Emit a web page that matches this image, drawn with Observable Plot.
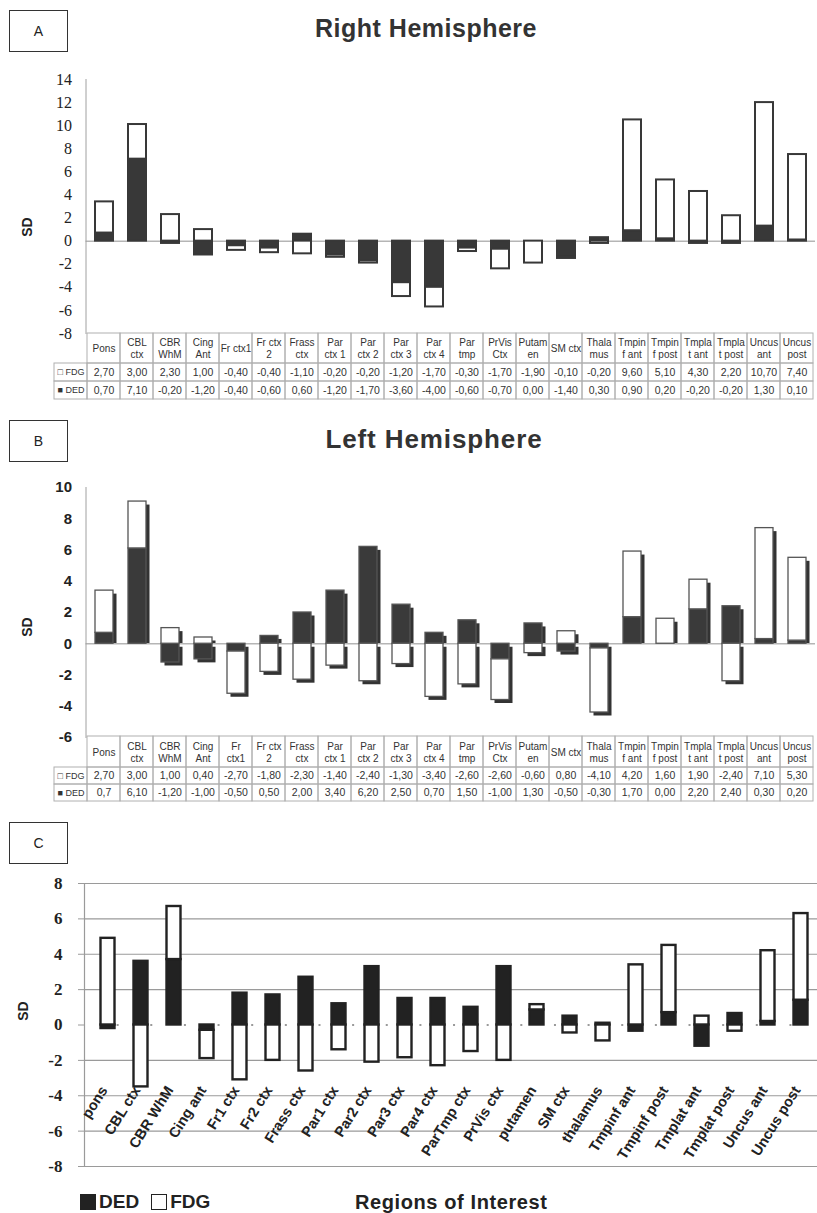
<!DOCTYPE html>
<html><head><meta charset="utf-8">
<script src="https://cdn.jsdelivr.net/npm/d3@7"></script>
<script src="https://cdn.jsdelivr.net/npm/@observablehq/plot@0.6"></script>
<style>
body{margin:0;background:#fff;}
#root{position:relative;width:817px;height:1213px;overflow:hidden;font-family:"Liberation Sans",Arial,sans-serif;color:#222;background:#fff;}
.box{position:absolute;border:1px solid #333;display:flex;align-items:center;justify-content:center;font-size:14px;color:#222;box-sizing:border-box;}
.title{position:absolute;font-weight:bold;color:#333;white-space:nowrap;line-height:1;transform:translateX(-50%);}
.sd{position:absolute;font-weight:bold;font-size:14px;line-height:1;color:#222;transform:translate(-50%,-50%) rotate(-90deg);}
</style></head><body><div id="root"></div>
<script>
// ---------- DATA ----------
const catsA = ["Pons","CBL\nctx","CBR\nWhM","Cing\nAnt","Fr ctx1","Fr ctx\n2","Frass\nctx","Par\nctx 1","Par\nctx 2","Par\nctx 3","Par\nctx 4","Par\ntmp","PrVis\nCtx","Putam\nen","SM ctx","Thala\nmus","Tmpin\nf ant","Tmpin\nf post","Tmpla\nt ant","Tmpla\nt post","Uncus\nant","Uncus\npost"];
const fdgA = ["2,70","3,00","2,30","1,00","-0,40","-0,40","-1,10","-0,20","-0,20","-1,20","-1,70","-0,30","-1,70","-1,90","-0,10","-0,20","9,60","5,10","4,30","2,20","10,70","7,40"];
const dedA = ["0,70","7,10","-0,20","-1,20","-0,40","-0,60","0,60","-1,20","-1,70","-3,60","-4,00","-0,60","-0,70","0,00","-1,40","0,30","0,90","0,20","-0,20","-0,20","1,30","0,10"];

const catsB = ["Pons","CBL\nctx","CBR\nWhM","Cing\nAnt","Fr\nctx1","Fr ctx\n2","Frass\nctx","Par\nctx 1","Par\nctx 2","Par\nctx 3","Par\nctx 4","Par\ntmp","PrVis\nCtx","Putam\nen","SM ctx","Thala\nmus","Tmpin\nf ant","Tmpin\nf post","Tmpla\nt ant","Tmpla\nt post","Uncus\nant","Uncus\npost"];
const fdgB = ["2,70","3,00","1,00","0,40","-2,70","-1,80","-2,30","-1,40","-2,40","-1,30","-3,40","-2,60","-2,60","-0,60","0,80","-4,10","4,20","1,60","1,90","-2,40","7,10","5,30"];
const dedB = ["0,7","6,10","-1,20","-1,00","-0,50","0,50","2,00","3,40","6,20","2,50","0,70","1,50","-1,00","1,30","-0,50","-0,30","1,70","0,00","2,20","2,40","0,30","0,20"];

const catsC = ["pons","CBL ctx","CBR WhM","Cing ant","Fr1 ctx","Fr2 ctx","Frass ctx","Par1 ctx","Par2 ctx","Par3 ctx","Par4 ctx","ParTmp ctx","PrVis ctx","putamen","SM ctx","thalamus","Tmpinf ant","Tmpinf post","Tmplat ant","Tmplat post","Uncus ant","Uncus post"];
const dedC = [-0.2, 3.6, 3.7, -0.3, 1.8, 1.7, 2.7, 1.2, 3.3, 1.5, 1.5, 1.0, 3.3, 0.85, 0.5, 0.1, -0.35, 0.7, -1.2, 0.65, 0.2, 1.4];
const fdgC = [4.9, -3.5, 3.0, -1.6, -3.1, -2.0, -2.6, -1.4, -2.1, -1.85, -2.3, -1.5, -2.0, 0.3, -0.45, -0.9, 3.4, 3.8, 0.5, -0.35, 4.0, 4.9];

const ticksA = d3.range(-8, 15, 2);
const ticksB = d3.range(-6, 11, 2);
const ticksC = d3.range(-8, 9, 2);
const seriesNames = ["DED", "FDG"];

// ---------- HELPERS ----------
const root = document.getElementById("root");
const FONT = '"Liberation Sans", Arial, sans-serif';
const NARROW = '"Liberation Sans Narrow", "Liberation Sans", Arial, sans-serif';
const SERIF = '"Liberation Serif", "Times New Roman", serif';
const W = 817;
const baseStyle = {background: "transparent", overflow: "visible", maxWidth: "none", fontFamily: FONT};
const num = s => +String(s).replace(",", ".");

function put(node, left, top) {
  node.style.position = "absolute";
  node.style.left = left + "px";
  node.style.top = top + "px";
  root.appendChild(node);
  return node;
}
function div(cls, text, css) {
  const d = document.createElement("div");
  if (cls) d.className = cls;
  d.textContent = text;
  Object.assign(d.style, css || {});
  root.appendChild(d);
  return d;
}
function longData(cats, ded, fdg) {
  return cats.flatMap((c, i) => [
    {cat: c, series: "DED", value: num(ded[i])},
    {cat: c, series: "FDG", value: num(fdg[i])}
  ]);
}
function table(cats, fdgStr, dedStr, top, headerH, rowH, left, right) {
  const step = (W - left - right) / cats.length;
  const header = Plot.plot({
    width: W, height: headerH + 1, marginTop: 0.5, marginBottom: 0.5, marginLeft: left, marginRight: right,
    style: baseStyle,
    x: {domain: cats, padding: 0, axis: null},
    y: {domain: ["h"], padding: 0, axis: null},
    marks: [
      Plot.cell(cats, {x: d => d, y: () => "h", fill: "none", stroke: "#b0b0b0", inset: 0}),
      Plot.text(cats, {x: d => d, y: () => "h", text: d => d, fontSize: 10, lineHeight: 1.2, fontFamily: NARROW, fill: "#333"})
    ]
  });
  put(header, 0, top - 0.5);
  const LEG = "legend";
  const rows = [];
  [["FDG", fdgStr, "\u25A1 FDG"], ["DED", dedStr, "\u25A0 DED"]].forEach(([r, vals, lab]) => {
    rows.push({col: LEG, row: r, text: lab});
    cats.forEach((c, i) => rows.push({col: c, row: r, text: vals[i]}));
  });
  const body = Plot.plot({
    width: W, height: 2 * rowH + 1, marginTop: 0.5, marginBottom: 0.5, marginLeft: left - step, marginRight: right,
    style: baseStyle,
    x: {domain: [LEG, ...cats], padding: 0, axis: null},
    y: {domain: ["FDG", "DED"], padding: 0, axis: null},
    marks: [
      Plot.cell(rows, {x: "col", y: "row", fill: "none", stroke: "#b0b0b0", inset: 0}),
      Plot.text(rows.filter(d => d.col !== LEG), {x: "col", y: "row", text: "text", fontSize: 10.5, fontFamily: NARROW, fill: "#333"}),
      Plot.text(rows.filter(d => d.col === LEG), {x: "col", y: "row", text: "text", fontSize: 9, fontFamily: NARROW, fill: "#333"})
    ]
  });
  put(body, 0, top + headerH - 0.5);
}

// ---------- PANEL A ----------
div("box", "A", {left: "9px", top: "10px", width: "59px", height: "42px"});
div("title", "Right Hemisphere", {left: "426px", top: "16px", fontSize: "25px", letterSpacing: "0.5px"});
div("sd", "SD", {left: "27px", top: "227px"});
const dataA = longData(catsA, dedA, fdgA);
const plotA = Plot.plot({
  width: W, height: 270, marginTop: 9, marginBottom: 7, marginLeft: 85.5, marginRight: 2,
  style: baseStyle,
  x: {domain: catsA, padding: 0, axis: null},
  y: {domain: [-8, 14], label: null},
  color: {domain: seriesNames, range: ["#383838", "#ffffff"]},
  marks: [
    Plot.ruleY([0], {stroke: "#b5b5b5", strokeWidth: 1.5}),
    Plot.frame({anchor: "left", stroke: "#a0a0a0"}),
    Plot.axisY({ticks: ticksA, tickSize: 0, tickPadding: 14, tickFormat: d => String(d), fontFamily: SERIF, fontSize: 16, fill: "#222", label: null}),
    Plot.barY(dataA, {x: "cat", y: "value", fill: "series", stroke: "#383838", strokeWidth: 2, insetLeft: 8, insetRight: 7})
  ]
});
put(plotA, 0, 70);
table(catsA, fdgA, dedA, 332, 30, 18, 85.5, 2);

// ---------- PANEL B ----------
div("box", "B", {left: "9px", top: "420px", width: "59px", height: "42px"});
div("title", "Left Hemisphere", {left: "434px", top: "426px", fontSize: "26px", letterSpacing: "0.9px"});
div("sd", "SD", {left: "27px", top: "627px"});
const dataB = longData(catsB, dedB, fdgB);
const plotB = Plot.plot({
  width: W, height: 266, marginTop: 9, marginBottom: 7, marginLeft: 85.5, marginRight: 2,
  style: baseStyle,
  x: {domain: catsB, padding: 0, axis: null},
  y: {domain: [-6, 10], label: null},
  color: {domain: seriesNames, range: ["#3a3a3a", "#ffffff"]},
  marks: [
    // drop shadows: total positive and total negative extent per region
    Plot.barY(dataB, Plot.groupX({y: "sum"}, {filter: d => d.value > 0, x: "cat", y: "value", fill: "#333", insetLeft: 8, insetRight: 7, insetBottom: 3.5, dx: 3.5, dy: 3.5})),
    Plot.barY(dataB, Plot.groupX({y: "sum"}, {filter: d => d.value < 0, x: "cat", y: "value", fill: "#333", insetLeft: 8, insetRight: 7, dx: 3.5, dy: 3.5})),
    Plot.ruleY([0], {stroke: "#b5b5b5", strokeWidth: 1.5}),
    Plot.frame({anchor: "left", stroke: "#a0a0a0"}),
    Plot.axisY({ticks: ticksB, tickSize: 0, tickPadding: 14, tickFormat: d => String(d), fontFamily: FONT, fontWeight: "bold", fontSize: 15, fill: "#222", label: null}),
    Plot.barY(dataB, {x: "cat", y: "value", fill: "series", stroke: "#555", strokeWidth: 1.3, insetLeft: 8, insetRight: 7})
  ]
});
put(plotB, 0, 478);
table(catsB, fdgB, dedB, 735, 31, 17.5, 85.5, 2);

// ---------- PANEL C ----------
div("box", "C", {left: "9px", top: "822px", width: "59px", height: "42px"});
div("sd", "SD", {left: "23px", top: "1011px"});
const dataC = catsC.flatMap((c, i) => [
  {cat: c, series: "DED", value: dedC[i]},
  {cat: c, series: "FDG", value: fdgC[i]}
]);
const plotC = Plot.plot({
  width: 824, height: 306, marginTop: 13, marginBottom: 10, marginLeft: 84, marginRight: 0,
  style: baseStyle,
  x: {domain: catsC, padding: 0, label: null},
  y: {domain: [-8, 8], label: null},
  color: {domain: seriesNames, range: ["#222222", "#ffffff"]},
  marks: [
    Plot.gridY({ticks: ticksC.filter(t => t !== 0), stroke: "#9a9a9a", strokeOpacity: 1, strokeWidth: 1.2}),
    Plot.ruleY([0], {stroke: "#9a9a9a", strokeWidth: 2, strokeDasharray: "2 31.64", strokeDashoffset: 1}),
    Plot.frame({anchor: "left", stroke: "#9a9a9a", strokeWidth: 1.2}),
    Plot.axisY({ticks: ticksC, tickSize: 6, tickPadding: 16, stroke: "#9a9a9a", tickFormat: d => String(d), fontFamily: SERIF, fontWeight: "bold", fontSize: 17, fill: "#222", label: null}),
    Plot.barY(dataC, {x: "cat", y: "value", fill: "series", stroke: "#222", strokeWidth: 2.4, insetLeft: 9.5, insetRight: 9.5}),
    Plot.axisX({tickSize: 0, tickRotate: -58, dy: -90, dx: -4, fontSize: 14.5, fontWeight: "bold", fill: "#222", fontFamily: FONT, label: null})
  ]
});
put(plotC, 0, 870);

// legend + axis title for C
const leg = div("", "", {position: "absolute", left: "80px", top: "1192px", fontWeight: "bold", fontSize: "19px", lineHeight: "20px", color: "#222", display: "flex", alignItems: "center", whiteSpace: "nowrap"});
seriesNames.forEach((s, i) => {
  const sw = document.createElement("span");
  Object.assign(sw.style, {display: "inline-block", width: "16px", height: "16px", boxSizing: "border-box",
    background: s === "DED" ? "#222" : "#fff", border: "1.5px solid #222", marginRight: "3px", marginLeft: i ? "12px" : "0"});
  leg.appendChild(sw);
  const t = document.createElement("span");
  t.textContent = s;
  leg.appendChild(t);
});
div("", "Regions of Interest", {position: "absolute", left: "355px", top: "1191px", fontWeight: "bold", fontSize: "20px", lineHeight: "22px", color: "#222", whiteSpace: "nowrap", letterSpacing: "0.6px"});
</script></body></html>
